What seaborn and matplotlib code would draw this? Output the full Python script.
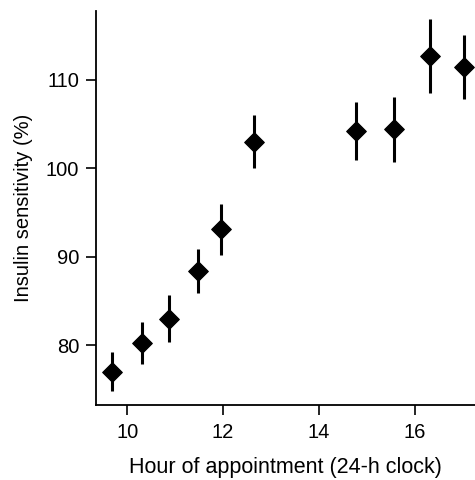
import numpy as np
import pandas as pd
import matplotlib
matplotlib.use('Agg')
import matplotlib.pyplot as plt
import seaborn as sns

sns.set_theme(style='ticks')
plt.rcParams['font.family'] = ['Liberation Sans', 'DejaVu Sans']
plt.rcParams['text.color'] = 'black'
plt.rcParams['axes.labelcolor'] = 'black'
plt.rcParams['xtick.color'] = 'black'
plt.rcParams['ytick.color'] = 'black'

# hour of appointment vs insulin sensitivity (% of mean)
hour = [9.69, 10.31, 10.88, 11.47, 11.95, 12.65, 14.78, 15.56, 16.31, 17.02]
sensitivity = [77.0, 80.2, 83.0, 88.4, 93.1, 103.0, 104.2, 104.4, 112.7, 111.5]
err = [2.2, 2.4, 2.7, 2.5, 2.9, 3.0, 3.3, 3.7, 4.2, 3.6]

df = pd.DataFrame({'hour': hour, 'sens': sensitivity, 'err': err})

fig = plt.figure(figsize=(4.75, 4.8), dpi=100)
ax = fig.add_axes([0.202, 0.156, 0.798, 0.821])

# vertical error bars, no caps
ax.errorbar(df.hour, df.sens, yerr=df.err, fmt='none', ecolor='black',
            elinewidth=2.2, capsize=0, zorder=2, clip_on=False)
sns.scatterplot(data=df, x='hour', y='sens', marker='D', s=100, color='black',
                edgecolor='black', linewidth=0.8, ax=ax, zorder=3, clip_on=False)

ax.set_xlim(9.35, 17.25)
ax.set_ylim(73.2, 117.8)
ax.set_xticks([10, 12, 14, 16])
ax.set_yticks([80, 90, 100, 110])
ax.set_xlabel('Hour of appointment (24-h clock)', fontsize=15.5, labelpad=11)
ax.set_ylabel('Insulin sensitivity (%)', fontsize=14.5, labelpad=9)
ax.tick_params(axis='both', labelsize=14.5, direction='out', length=7,
               width=1.2, pad=5)
ax.tick_params(axis='x', pad=6)

sns.despine(ax=ax)
for s in ['left', 'bottom']:
    ax.spines[s].set_linewidth(1.3)
    ax.spines[s].set_color('black')

fig.savefig('out.png', dpi=100)
